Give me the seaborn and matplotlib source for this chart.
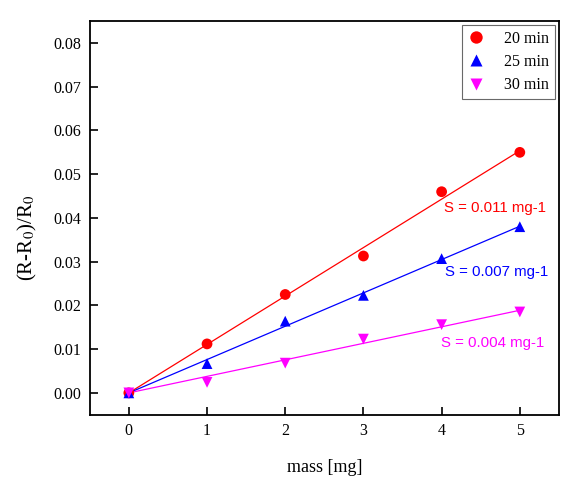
import numpy as np
import pandas as pd
import matplotlib
matplotlib.use("Agg")
import matplotlib.pyplot as plt
import seaborn as sns

mass = [0, 1, 2, 3, 4, 5]
r20 = [0.0, 0.0112, 0.0225, 0.0313, 0.0460, 0.0550]
r25 = [0.0, 0.0067, 0.0164, 0.0223, 0.0307, 0.0380]
r30 = [0.0, 0.0024, 0.0068, 0.0123, 0.0156, 0.0185]
series = ["20 min", "25 min", "30 min"]
slope_labels = ["S = 0.011 mg-1", "S = 0.007 mg-1", "S = 0.004 mg-1"]

colors = {"20 min": "#ff0000", "25 min": "#0000ff", "30 min": "#ff00ff"}
markers = {"20 min": "o", "25 min": "^", "30 min": "v"}

df = pd.DataFrame({
    "mass": mass * 3,
    "ratio": r20 + r25 + r30,
    "time": [s for s in series for _ in mass],
})

sns.set_style("ticks")
plt.rcParams["font.family"] = ["Liberation Serif", "DejaVu Serif"]
plt.rcParams["mathtext.fontset"] = "stix"
plt.rcParams["text.color"] = "black"
plt.rcParams["axes.labelcolor"] = "black"

fig, ax = plt.subplots(figsize=(5.68, 4.92), dpi=100)
fig.subplots_adjust(left=0.158, right=0.984, top=0.957, bottom=0.157)

# fitted lines through the origin
x = np.array(mass, dtype=float)
for name, vals in zip(series, [r20, r25, r30]):
    y = np.array(vals)
    k = (x * y).sum() / (x * x).sum()
    ax.plot(x, k * x, color=colors[name], lw=0.9, zorder=1)

sns.scatterplot(data=df, x="mass", y="ratio", hue="time", style="time",
                palette=colors, markers=markers, s=60, edgecolor="none",
                ax=ax, zorder=3)

# slope annotations
ann_pos = [(4.68, 0.0423), (4.70, 0.0276), (4.65, 0.0114)]
for name, txt, (tx, ty) in zip(series, slope_labels, ann_pos):
    ax.text(tx, ty, txt, color=colors[name], fontsize=10.8,
            family=["Liberation Sans", "DejaVu Sans"], ha="center", va="center")

ax.set_xlim(-0.5, 5.5)
ax.set_ylim(-0.005, 0.085)
ax.set_xticks(mass)
ax.set_yticks(np.arange(0, 0.081, 0.01))
ax.yaxis.set_major_formatter(matplotlib.ticker.FormatStrFormatter("%.2f"))
ax.tick_params(direction="in", length=6, width=1.2, labelsize=11.5,
               colors="black", pad=6)
for sp in ax.spines.values():
    sp.set_visible(True)
    sp.set_linewidth(1.3)
    sp.set_color("black")

ax.set_xlabel("mass [mg]", fontsize=13, labelpad=14)
ax.set_ylabel(r"(R-R$_0$)/R$_0$", fontsize=15)
ax.yaxis.set_label_coords(-0.109, 0.45)

leg = ax.legend(loc="upper right", fontsize=11.5, frameon=True, fancybox=False,
                edgecolor="#444444", handlelength=1.0, handletextpad=1.3,
                borderaxespad=0.25, labelspacing=0.45, markerscale=1.15,
                borderpad=0.35)
leg.get_frame().set_linewidth(0.8)

fig.savefig("out.png", dpi=100)
